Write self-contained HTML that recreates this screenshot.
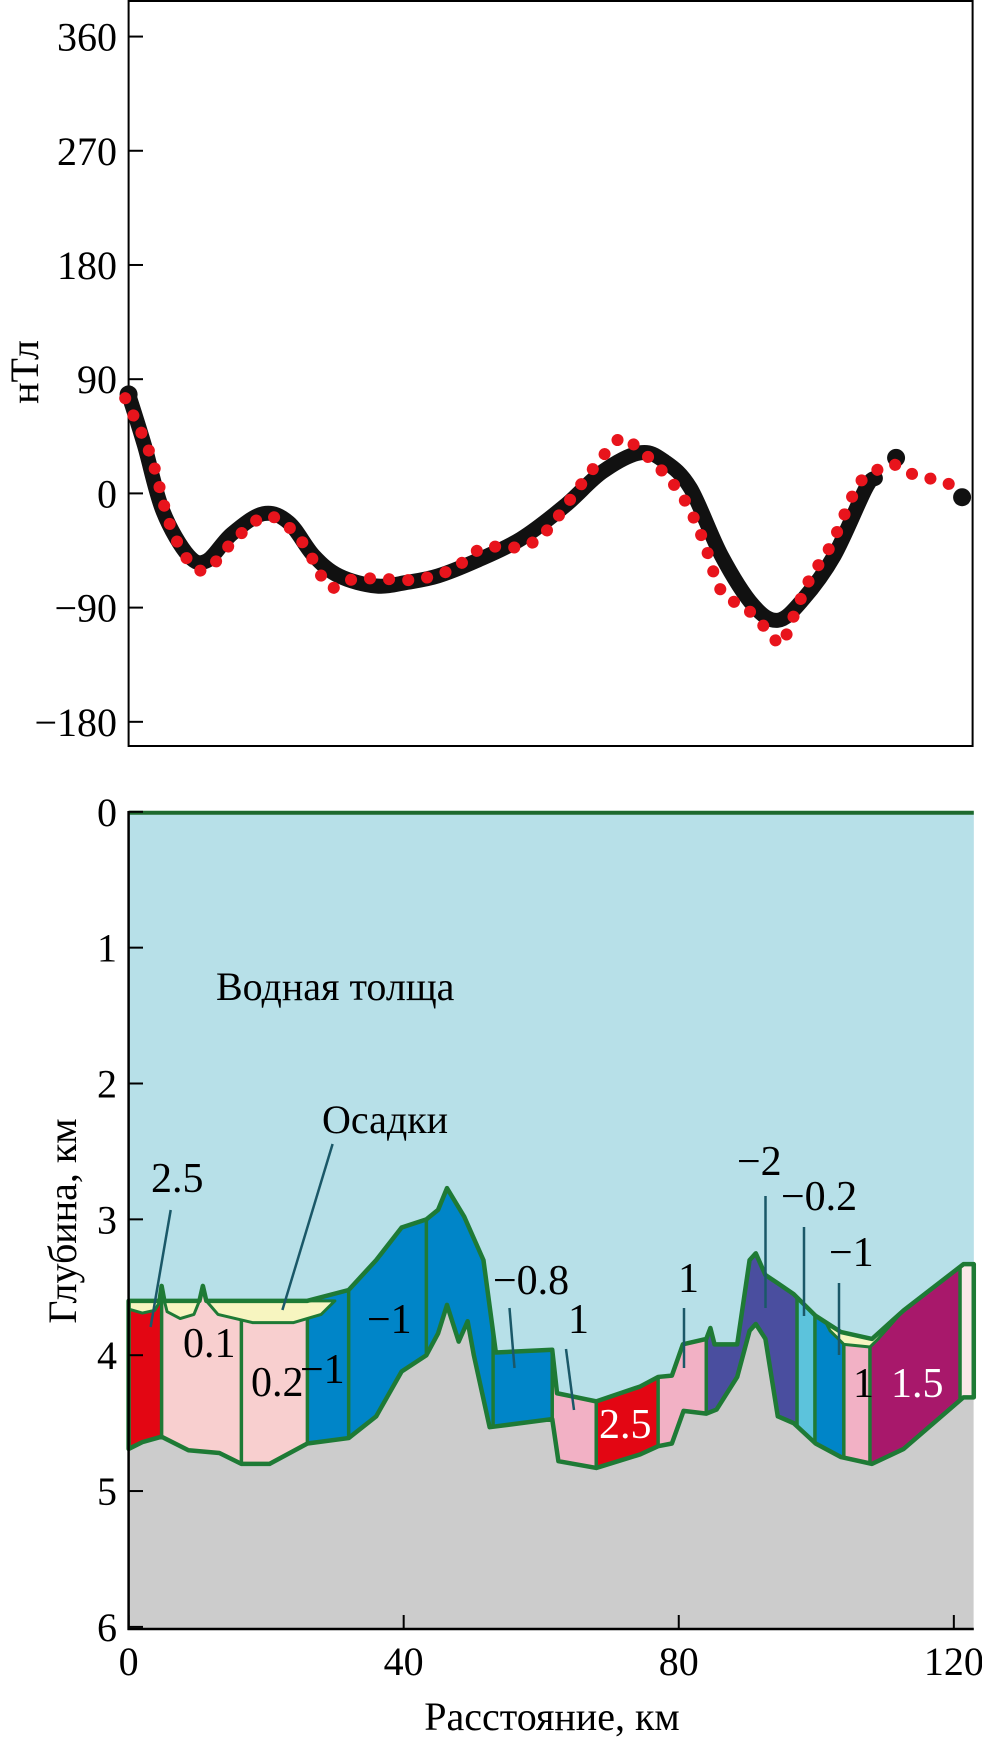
<!DOCTYPE html>
<html><head><meta charset="utf-8">
<style>
html,body{margin:0;padding:0;background:#fff;font-family:"Liberation Serif",serif;}
svg{display:block;}
text{font-family:"Liberation Serif",serif;}
</style></head>
<body>
<svg id="fig" width="982" height="1738" viewBox="0 0 982 1738" xmlns="http://www.w3.org/2000/svg" font-family="Liberation Serif, serif">
<g id="topchart"></g>
<g id="botchart"></g>
</svg>
<script>
// ---- Magnetic anomaly data (km, nT) ----
const obsKm=[0,2.3,5,8.7,11.4,15,19.6,23.3,26.9,30.6,36,40.6,45,50.6,57,63.4,68.9,74.4,78,81.7,86.2,90.8,94.4,98,102.6,107.2,108.6];
const obsVal=[78,38,-14,-49,-53,-32,-16,-23,-49,-65,-73,-70,-65,-53,-36,-10,17,32,25,4,-49,-88,-100,-84,-49,4,12];
const obsDotKm=[0,111.6,121.2];
const obsDotVal=[78,28,-3];
const modKm=[-0.5,3.2,5.9,8.7,11.4,15.5,20,24,26.9,29.2,32.4,36,41.5,47,51.5,57,60.7,66.2,70.7,72.5,77,80.7,83.5,86.2,89.9,93.1,94.9,96.3,99,102.2,105.8,107.7,110.9,114.5,118.1,120.9];
const modVal=[75,30,-23,-53,-60,-36,-18,-30,-53,-74,-68,-67,-68,-60,-43,-42,-30,10,40,42,21,-4,-36,-77,-91,-109,-119,-102,-68,-40,4,14,23,14,10,3];
const yTicks=[360,270,180,90,0,-90,-180];
const yTickLabels=["360","270","180","90","0","\u221290","\u2212180"];
// ---- Geologic section data (km, depth km) ----
const seafloorKm=[0,4.5,4.8,5.2,10.3,10.8,11.3,26,32,36,39.7,43.3,45,46.3,48.8,51.6,53.4,61.6,62.3,68,74.4,77,79,80.6,84,84.6,85.2,88.5,90.3,91.2,92.6,94.4,96.7,99.9,103.6,108.1,112.7,121.4,122.9];
const seafloorDepth=[3.6,3.6,3.49,3.6,3.6,3.49,3.6,3.6,3.52,3.3,3.06,3.0,2.93,2.77,2.98,3.3,3.98,3.96,4.28,4.34,4.23,4.16,4.15,3.92,3.88,3.8,3.92,3.92,3.3,3.25,3.41,3.47,3.55,3.71,3.83,3.88,3.67,3.33,3.33];
const basementKm=[0,2,4.8,8.7,13.2,16.4,20.5,26,32,36,39.7,43.3,45,46.3,48,49.3,50.2,52.5,61.6,62.5,68,74.4,77,79,80.7,84,85.5,88.5,90.3,91.2,92.6,94.4,96.7,99.9,103.6,108.1,112.7,121.4,122.9];
const basementDepth=[4.69,4.64,4.6,4.7,4.72,4.8,4.8,4.65,4.61,4.45,4.12,4.0,3.84,3.63,3.9,3.75,4.0,4.53,4.47,4.78,4.83,4.73,4.67,4.65,4.41,4.43,4.4,4.16,3.82,3.77,3.88,4.45,4.5,4.65,4.75,4.8,4.69,4.31,4.31];
const blockStart=[0,4.8,16.4,26,32,43.3,53,61.6,68,77,84,97.2,99.8,104,107.8,120.9];
const blockEnd=[4.8,16.4,26,32,43.3,53,61.6,68,77,84,97.2,99.8,104,107.8,120.9,122.9];
const blockColor=["#e30613","#f8cfcf","#f8cfcf","#0085c8","#0085c8","#0085c8","#0085c8","#f2b1c5","#e30613","#f2b1c5","#4a4e9f","#5cc3dc","#0085c8","#f2b1c5","#a8186b","#fbe8e8"];
const lensKm=[[0,4.6,3.8,2,0],[5.2,10.3,9.5,7.5,5.6],[11.3,30,28,24,18,13],[101.5,103.6,108.1,112.7,111.8,109,107.8,104,102]];
const lensDepth=[[3.6,3.6,3.67,3.69,3.66],[3.6,3.6,3.7,3.73,3.68],[3.6,3.6,3.7,3.76,3.76,3.7],[3.77,3.83,3.88,3.67,3.72,3.88,3.94,3.92,3.82]];
const depthTicks=[0,1,2,3,4,5,6];
const kmTicks=[0,40,80,120];

const NS="http://www.w3.org/2000/svg";
const FF="Liberation Serif, serif";
function mk(tag,attrs,parent){const el=document.createElementNS(NS,tag);for(const k in attrs)el.setAttribute(k,attrs[k]);if(tag==='text')el.setAttribute('font-family',FF);parent.appendChild(el);return el;}
const X=km=>128.6+km*6.877;
const Ym=v=>493.4-v*1.269;
const Yd=d=>811.8+d*135.85;

function smooth(pts){
  let d="M"+pts[0][0].toFixed(1)+","+pts[0][1].toFixed(1);
  for(let i=0;i<pts.length-1;i++){
    const p0=pts[i-1]||pts[i],p1=pts[i],p2=pts[i+1],p3=pts[i+2]||p2;
    const c1=[p1[0]+(p2[0]-p0[0])/6,p1[1]+(p2[1]-p0[1])/6];
    const c2=[p2[0]-(p3[0]-p1[0])/6,p2[1]-(p3[1]-p1[1])/6];
    d+=" C"+c1.map(v=>v.toFixed(1)).join(",")+" "+c2.map(v=>v.toFixed(1)).join(",")+" "+p2.map(v=>v.toFixed(1)).join(",");
  }
  return d;
}

// ---------- TOP CHART ----------
const topG=document.getElementById('topchart');
let e=mk('rect',{x:128.6,y:1,width:844,height:745,fill:'#fff',stroke:'#000','stroke-width':2},topG);


yTicks.forEach((v,i)=>{
  let t=mk('line',{x1:128.6,x2:143,y1:Ym(v),y2:Ym(v),stroke:'#000','stroke-width':2},topG);
  
  
  let l=mk('text',{x:117,y:Ym(v)+14,'text-anchor':'end','font-size':40},topG);
  l.textContent=yTickLabels[i];
  
  
});
e=mk('text',{x:0,y:0,'text-anchor':'middle','font-size':40,transform:'translate(38,372) rotate(-90)'},topG);
e.textContent='нТл';


const obsPts=obsKm.map((k,i)=>[X(k),Ym(obsVal[i])]);
e=mk('path',{d:smooth(obsPts),fill:'none',stroke:'#111','stroke-width':15,'stroke-linecap':'round'},topG);


obsDotKm.forEach((k,i)=>{
  let c=mk('circle',{cx:X(k),cy:Ym(obsDotVal[i]),r:9,fill:'#111'},topG);
  
  
});
const modPts=modKm.map((k,i)=>[X(k),Ym(modVal[i])]);
e=mk('path',{d:smooth(modPts),fill:'none',stroke:'#e8141c','stroke-width':12,'stroke-linecap':'round','stroke-dasharray':'0.1 19'},topG);



// ---------- BOTTOM CHART ----------
const botG=document.getElementById('botchart');
e=mk('rect',{x:128.6,y:811.8,width:845,height:817,fill:'#cccccc'},botG);


let wpts=seafloorKm.map((k,i)=>X(k)+','+Yd(seafloorDepth[i]));
wpts.push(X(122.9)+','+Yd(0),X(0)+','+Yd(0));
e=mk('polygon',{points:[X(0)+','+Yd(0)].concat(wpts).join(' '),fill:'#b7e0e8'},botG);


e=mk('rect',{x:X(122.9),y:Yd(0),width:973.8-X(122.9),height:Yd(3.33)-Yd(0),fill:'#b7e0e8'},botG);


e=mk('rect',{x:X(122.9),y:Yd(3.33),width:973.8-X(122.9),height:Yd(4.31)-Yd(3.33),fill:'#fbe8e8'},botG);


const layerPts=seafloorKm.map((k,i)=>X(k)+','+Yd(seafloorDepth[i])).concat(basementKm.slice().reverse().map((k,i)=>X(k)+','+Yd(basementDepth[basementDepth.length-1-i]))).join(' ');
const defsEl=mk('defs',{},botG);
const cp=mk('clipPath',{id:'layerClip'},defsEl);
mk('polygon',{points:layerPts},cp);
const blocksG=mk('g',{'clip-path':'url(#layerClip)'},botG);


blockStart.forEach((s,i)=>{
  let r=mk('rect',{x:X(s),y:Yd(2.5),width:X(blockEnd[i])-X(s),height:Yd(5.2)-Yd(2.5),fill:blockColor[i]},blocksG);
  
  
  if(i>0){
    let b=mk('line',{x1:X(s),x2:X(s),y1:Yd(2.5),y2:Yd(5.2),stroke:'#1e7a35','stroke-width':3.5},blocksG);
    
    
  }
});
lensKm.forEach((arr,j)=>{
  let p=mk('polygon',{points:arr.map((k,i)=>X(k)+','+Yd(lensDepth[j][i])).join(' '),fill:'#f7f5c0',stroke:'#1e7a35','stroke-width':3,'stroke-linejoin':'round'},botG);
  
  
});
e=mk('polygon',{points:layerPts,fill:'none',stroke:'#1e7a35','stroke-width':4.5,'stroke-linejoin':'round'},botG);


e=mk('polyline',{points:X(122.9)+','+Yd(3.33)+' 973.8,'+Yd(3.33)+' '+X(122.9)+','+Yd(3.33)+' '+X(122.9)+','+Yd(4.31)+' 973.8,'+Yd(4.31),fill:'none',stroke:'#1e7a35','stroke-width':4},botG);


e=mk('line',{x1:128.6,x2:973.8,y1:Yd(0)+1,y2:Yd(0)+1,stroke:'#1e6a2e','stroke-width':4},botG);


e=mk('line',{x1:128.6,x2:128.6,y1:811,y2:1630,stroke:'#000','stroke-width':2.5},botG);


e=mk('line',{x1:127.5,x2:973.8,y1:1629,y2:1629,stroke:'#000','stroke-width':2.5},botG);


depthTicks.forEach(d=>{
  let t=mk('line',{x1:128.6,x2:143,y1:Yd(d),y2:Yd(d),stroke:'#000','stroke-width':2},botG);
  
  
  let l=mk('text',{x:117,y:Yd(d)+14,'text-anchor':'end','font-size':40},botG);
  l.textContent=String(d);
  
  
});
kmTicks.forEach(k=>{
  let t=mk('line',{x1:X(k),x2:X(k),y1:1629,y2:1615,stroke:'#000','stroke-width':2},botG);
  
  
  let l=mk('text',{x:X(k),y:1675,'text-anchor':'middle','font-size':40},botG);
  l.textContent=String(k);
  
  
});
e=mk('text',{x:552,y:1730,'text-anchor':'middle','font-size':40},botG);
e.textContent='Расстояние, км';


e=mk('text',{x:0,y:0,'text-anchor':'middle','font-size':40,transform:'translate(76,1221) rotate(-90)'},botG);
e.textContent='Глубина, км';


e=mk('text',{x:216,y:1000,'font-size':40},botG);
e.textContent='Водная толща';


e=mk('text',{x:322,y:1133,'font-size':40},botG);
e.textContent='Осадки';


const leaders=[[170.7,1210,150.6,1327],[332.6,1144,282.4,1310],[509.5,1308,514.5,1368],[566,1349,574,1410],[684,1308,684,1368],[765.5,1196,765.5,1308],[804,1227,804,1316],[839,1283,839,1355]];
leaders.forEach(a=>{
  let l=mk('line',{x1:a[0],y1:a[1],x2:a[2],y2:a[3],stroke:'#1a5868','stroke-width':2.5},botG);
  
  
});
const labList=[["2.5",151,1192,'#000'],["0.1",183,1357,'#000'],["0.2",251,1396,'#000'],["\u22121",300,1383,'#000'],["\u22121",367,1333,'#000'],["\u22120.8",493,1294,'#000'],["1",568,1333,'#000'],["2.5",599,1438,'#fff'],["1",678,1292,'#000'],["\u22122",737,1175,'#000'],["\u22120.2",781,1210,'#000'],["\u22121",829,1266,'#000'],["1",853,1397,'#000'],["1.5",891,1397,'#fff']];
labList.forEach(a=>{
  let t=mk('text',{x:a[1],y:a[2],'font-size':42,fill:a[3]},botG);
  t.textContent=a[0];
  
  
});
</script>
</body></html>
